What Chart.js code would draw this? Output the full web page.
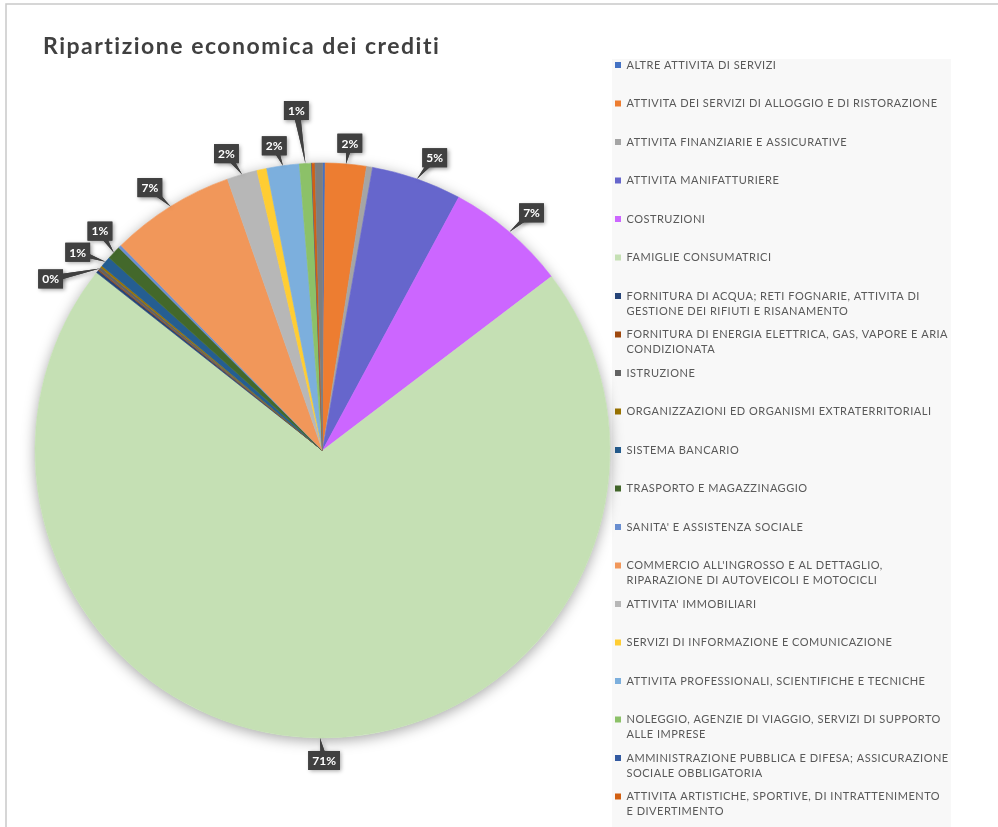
<!DOCTYPE html>
<html>
<head>
<meta charset="utf-8">
<script src="https://cdn.jsdelivr.net/npm/chart.js@4.4.1/dist/chart.umd.min.js"></script>
<style>
  html, body { margin: 0; padding: 0; background: #fff; overflow: hidden; }
  #wrap { position: absolute; left: 0; top: 0; width: 998px; height: 900px; }
</style>
</head>
<body>
<div id="wrap"><canvas id="chartContainer"></canvas></div>
<script>
var chartTitle = 'Ripartizione economica dei crediti';

// categorie (righe della legenda)
var categories = [
  ['ALTRE ATTIVITA DI SERVIZI'],
  ['ATTIVITA DEI SERVIZI DI ALLOGGIO E DI RISTORAZIONE'],
  ['ATTIVITA FINANZIARIE E ASSICURATIVE'],
  ['ATTIVITA MANIFATTURIERE'],
  ['COSTRUZIONI'],
  ['FAMIGLIE CONSUMATRICI'],
  ['FORNITURA DI ACQUA; RETI FOGNARIE, ATTIVITA DI', 'GESTIONE DEI RIFIUTI E RISANAMENTO'],
  ['FORNITURA DI ENERGIA ELETTRICA, GAS, VAPORE E ARIA', 'CONDIZIONATA'],
  ['ISTRUZIONE'],
  ['ORGANIZZAZIONI ED ORGANISMI EXTRATERRITORIALI'],
  ['SISTEMA BANCARIO'],
  ['TRASPORTO E MAGAZZINAGGIO'],
  ["SANITA' E ASSISTENZA SOCIALE"],
  ["COMMERCIO ALL'INGROSSO E AL DETTAGLIO,", 'RIPARAZIONE DI AUTOVEICOLI E MOTOCICLI'],
  ["ATTIVITA' IMMOBILIARI"],
  ['SERVIZI DI INFORMAZIONE E COMUNICAZIONE'],
  ['ATTIVITA PROFESSIONALI, SCIENTIFICHE E TECNICHE'],
  ['NOLEGGIO, AGENZIE DI VIAGGIO, SERVIZI DI SUPPORTO', 'ALLE IMPRESE'],
  ['AMMINISTRAZIONE PUBBLICA E DIFESA; ASSICURAZIONE', 'SOCIALE OBBLIGATORIA'],
  ['ATTIVITA ARTISTICHE, SPORTIVE, DI INTRATTENIMENTO', 'E DIVERTIMENTO'],
  ['ALTRO']   // voce tagliata fuori dalla legenda
];

// quote in %
var values = [0.15, 2.30, 0.34, 5.07, 6.80, 70.96, 0.15, 0.05, 0.17, 0.10,
              0.60, 0.78, 0.17, 7.00, 1.70, 0.55, 1.83, 0.67, 0.02, 0.17, 0.42];

var colors = ['#4472C4', '#ED7D31', '#A5A5A5', '#6666CC', '#CC66FF', '#C5E0B4',
              '#264478', '#9E480E', '#636363', '#997300', '#255E91', '#43682B',
              '#698ED0', '#F1975A', '#B7B7B7', '#FFCD33', '#7CAFDD', '#8CC168',
              '#335AA1', '#D26012', '#7E7E7E'];

var legendCount = 20; // voci visibili nella legenda

// fette con etichetta: indice -> [distanza oltre il bordo, spostamento in gradi]
var labelPlace = {
  1: [21, 0.4], 3: [26, 1.8], 4: [29, 0.8], 5: [22.5, -0.8],
  8: [34, -7.0], 10: [27.5, -2.0], 11: [25, 1.1], 13: [27, -1.4],
  14: [24.5, -1.7], 16: [21, -1.1], 17: [53.5, -1.0]
};

var FONT = 'Lato, "Open Sans", sans-serif';

var decorPlugin = {
  id: 'decor',
  beforeLayout: function(chart) {
    var lg = chart.legend;
    if (lg && !lg._fixedW) {
      var fit = lg.fit;
      lg.fit = function() { fit.call(this); this.width = 391.5; };
      lg._fixedW = true;
    }
  },
  beforeDraw: function(chart) {
    var ctx = chart.ctx, lg = chart.legend;
    ctx.save();
    ctx.fillStyle = '#fff';
    ctx.fillRect(0, 0, chart.width, chart.height);
    // pannello legenda
    ctx.fillStyle = '#F8F8F8';
    ctx.fillRect(lg.left + 5.5, lg.top + 8, 339, chart.height);
    // cornice
    ctx.strokeStyle = '#C9C9C9';
    ctx.lineWidth = 1.5;
    ctx.beginPath();
    ctx.moveTo(6, chart.height);
    ctx.lineTo(6, 4);
    ctx.lineTo(chart.width, 4);
    ctx.stroke();
    // titolo
    ctx.fillStyle = '#404040';
    ctx.font = 'bold 23px ' + FONT;
    ctx.letterSpacing = '1.5px';
    ctx.textBaseline = 'alphabetic';
    ctx.fillText(chartTitle, 43, 54);
    ctx.restore();
    // spaziatura per il testo della legenda
    ctx.letterSpacing = '0.5px';
  },
  beforeDatasetsDraw: function(chart) {
    var ctx = chart.ctx;
    ctx.letterSpacing = '0px';
    var arc = chart.getDatasetMeta(0).data[0];
    ctx.save();
    ctx.shadowColor = 'rgba(0,0,0,0.35)';
    ctx.shadowBlur = 14;
    ctx.shadowOffsetY = 3;
    ctx.fillStyle = '#fff';
    ctx.beginPath();
    ctx.arc(arc.x, arc.y, arc.outerRadius, 0, Math.PI * 2);
    ctx.fill();
    ctx.restore();
  },
  afterDatasetsDraw: function(chart) {
    var ctx = chart.ctx;
    var meta = chart.getDatasetMeta(0);
    var total = values.reduce(function(a, b) { return a + b; }, 0);
    ctx.save();
    ctx.font = 'bold 12px ' + FONT;
    Object.keys(labelPlace).forEach(function(k) {
      var i = +k;
      var p = meta.data[i].getProps(['x', 'y', 'startAngle', 'endAngle', 'outerRadius'], true);
      var mid = (p.startAngle + p.endAngle) / 2;
      var a = mid + labelPlace[i][1] * Math.PI / 180;
      var rr = p.outerRadius + labelPlace[i][0];
      var cx = p.x + Math.cos(a) * rr, cy = p.y + Math.sin(a) * rr;
      var tx = p.x + Math.cos(mid) * p.outerRadius, ty = p.y + Math.sin(mid) * p.outerRadius;
      var text = Math.round(values[i] / total * 100) + '%';
      var w = ctx.measureText(text).width + 8, h = 19;
      var dx = tx - cx, dy = ty - cy, len = Math.hypot(dx, dy);
      var nx = -dy / len * 3.5, ny = dx / len * 3.5;
      var shape = function() {
        ctx.beginPath();
        ctx.moveTo(cx + nx, cy + ny);
        ctx.lineTo(tx, ty);
        ctx.lineTo(cx - nx, cy - ny);
        ctx.closePath();
        ctx.fill();
        ctx.fillRect(cx - w / 2, cy - h / 2, w, h);
      };
      ctx.fillStyle = '#404040';
      ctx.shadowColor = 'rgba(0,0,0,0.35)';
      ctx.shadowBlur = 4;
      ctx.shadowOffsetX = 1.5;
      ctx.shadowOffsetY = 1.5;
      shape();
      ctx.shadowColor = 'transparent';
      shape();
      ctx.fillStyle = '#fff';
      ctx.textAlign = 'center';
      ctx.textBaseline = 'middle';
      ctx.fillText(text, cx, cy + 0.5);
    });
    ctx.restore();
  }
};

var ctx = document.getElementById('chartContainer').getContext('2d');
var chart = new Chart(ctx, {
  type: 'pie',
  data: {
    labels: categories.map(function(c) { return c.join(' '); }),
    datasets: [{
      data: values,
      backgroundColor: colors,
      borderColor: colors,
      borderWidth: 0.6,
      hoverOffset: 0
    }]
  },
  options: {
    responsive: true,
    maintainAspectRatio: false,
    devicePixelRatio: 1,
    animation: false,
    radius: 287.5,
    clip: false,
    layout: { padding: { top: 51, left: 38.5, right: 0, bottom: 50 } },
    plugins: {
      tooltip: { enabled: false },
      title: { display: false },
      legend: {
        position: 'right',
        align: 'start',
        labels: {
          boxWidth: 6,
          boxHeight: 6,
          padding: 8.5,
          color: '#595959',
          font: { family: FONT, size: 11, lineHeight: '15px' },
          generateLabels: function() {
            return categories.slice(0, legendCount).map(function(c, i) {
              return {
                text: c.length > 1 ? c : [c[0], ''],
                fillStyle: colors[i],
                strokeStyle: colors[i],
                fontColor: '#595959',
                lineWidth: 0,
                hidden: false,
                index: i
              };
            });
          }
        }
      }
    }
  },
  plugins: [decorPlugin]
});
</script>
</body>
</html>
